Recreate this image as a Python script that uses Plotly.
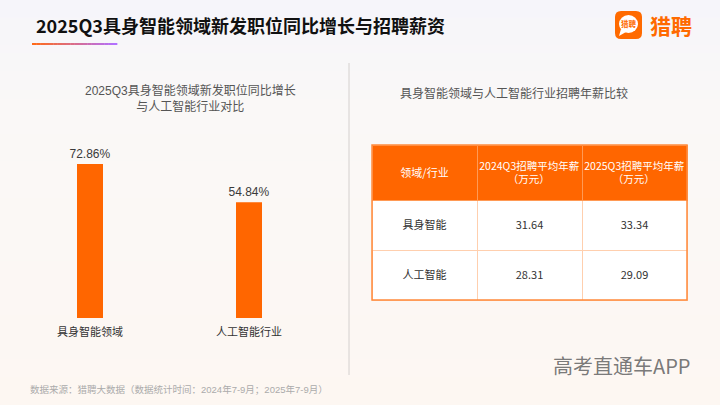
import plotly.graph_objects as go

# ---- data ----
title_text = "2025Q3具身智能领域新发职位同比增长与招聘薪资"
bar_categories = ["具身智能领域", "人工智能行业"]
bar_values = [72.86, 54.84]
left_subtitle = "2025Q3具身智能领域新发职位同比增长<br>与人工智能行业对比"
right_subtitle = "具身智能领域与人工智能行业招聘年薪比较"
table_header = ["领域/行业", "2024Q3招聘平均年薪", "2025Q3招聘平均年薪"]
header_unit = "（万元）"
table_fields = ["具身智能", "人工智能"]
salary_2024 = ["31.64", "28.31"]
salary_2025 = ["33.34", "29.09"]
source_text = "数据来源：猎聘大数据（数据统计时间：2024年7-9月；2025年7-9月）"
brand_text = "猎聘"
watermark_text = "高考直通车APP"

W, H = 720, 405
CJK = "Noto Sans CJK SC"
LAT = "Liberation Sans, Noto Sans CJK SC"
ORANGE = "#FF6600"


def px(x):
    return x / W


def py(y):
    return 1 - y / H


def spacer(size):
    # invisible first line used to nudge table text down (tables have no valign)
    return '<span style="font-size:%gpx">\u00a0</span><br>' % size


def pushdown(v):
    return [spacer(6) + s for s in v]


header_cells = [spacer(8.2) + table_header[0]] + [
    spacer(3) + h + "<br>\u3000\u3000\u2002\u2009" + header_unit for h in table_header[1:]
]

fig = go.Figure()

# bars
fig.add_trace(go.Bar(
    x=bar_categories, y=bar_values,
    marker=dict(color=ORANGE, line=dict(width=0)),
    width=0.1635,
    texttemplate="%{y:.2f}%", textposition="outside", constraintext="none",
    textfont=dict(family=LAT, size=12, color="#3a3a3a"),
    cliponaxis=False, hoverinfo="skip",
))

# table
fig.add_trace(go.Table(
    domain=dict(x=[px(372), px(687)], y=[0, py(145)]),
    columnwidth=[1, 1, 1],
    header=dict(
        values=header_cells,
        fill_color=ORANGE,
        line=dict(color="#FF9A55", width=1),
        align="center", height=55,
        font=dict(family=CJK, size=[11, 10.5, 10.5], color="white"),
    ),
    cells=dict(
        values=[pushdown(table_fields), pushdown(salary_2024), pushdown(salary_2025)],
        fill_color="white",
        line=dict(color="#FFCFAE", width=1),
        align="center", height=50,
        font=dict(family=CJK, size=11, color="#333333"),
    ),
))

shapes = []


def lerp(c1, c2, t):
    return tuple(round(a + (b - a) * t) for a, b in zip(c1, c2))


# background gradient bands
stops = [(0, (246, 245, 250)), (110, (250, 248, 247)), (405, (253, 247, 242))]
nb = 45
for i in range(nb):
    y0 = H * i / nb
    y1 = H * (i + 1) / nb
    ym = (y0 + y1) / 2
    for j in range(len(stops) - 1):
        if stops[j][0] <= ym <= stops[j + 1][0]:
            t = (ym - stops[j][0]) / (stops[j + 1][0] - stops[j][0])
            c = lerp(stops[j][1], stops[j + 1][1], t)
    shapes.append(dict(type="rect", xref="paper", yref="paper", x0=0, x1=1,
                       y0=py(y1), y1=py(y0) + 0.001, fillcolor="rgb(%d,%d,%d)" % c,
                       line=dict(width=0), layer="below"))

# title underline gradient
ng = 20
c_a, c_b = (255, 106, 26), (178, 112, 255)
for i in range(ng):
    c = lerp(c_a, c_b, i / (ng - 1))
    x0 = 32 + (117 - 32) * i / ng
    x1 = 32 + (117 - 32) * (i + 1) / ng
    shapes.append(dict(type="rect", xref="paper", yref="paper",
                       x0=px(x0), x1=px(x1) + 0.0005, y0=py(45), y1=py(43),
                       fillcolor="rgb(%d,%d,%d)" % c, line=dict(width=0)))

# divider line
shapes.append(dict(type="line", xref="paper", yref="paper", x0=px(349), x1=px(349),
                   y0=py(63), y1=py(375), line=dict(color="#D4D0CE", width=1)))

# table outer border
shapes.append(dict(type="rect", xref="paper", yref="paper", x0=px(372), x1=px(687),
                   y0=py(300), y1=py(145), line=dict(color="#FF8A3D", width=1.5),
                   fillcolor="rgba(0,0,0,0)", layer="above"))

# logo: rounded orange square
lx0, lx1, ly0, ly1, r = 615, 642, 11, 39, 6
path = (f"M {lx0 + r},{ly0} L {lx1 - r},{ly0} Q {lx1},{ly0} {lx1},{ly0 + r} "
        f"L {lx1},{ly1 - r} Q {lx1},{ly1} {lx1 - r},{ly1} L {lx0 + r},{ly1} "
        f"Q {lx0},{ly1} {lx0},{ly1 - r} L {lx0},{ly0 + r} Q {lx0},{ly0} {lx0 + r},{ly0} Z")
fig.add_trace(go.Scatter(x=[0], y=[0], xaxis="x2", yaxis="y2", mode="markers",
                         marker=dict(opacity=0), hoverinfo="skip", showlegend=False))
shapes.append(dict(type="path", xref="x2", yref="y2", path=path,
                   fillcolor="#FF6A00", line=dict(width=0)))
shapes.append(dict(type="circle", xref="x2", yref="y2", x0=619, x1=638, y0=15, y1=33,
                   fillcolor="white", line=dict(width=0)))
shapes.append(dict(type="path", xref="x2", yref="y2",
                   path="M 621,29 L 619,36 L 626,32 Z", fillcolor="white", line=dict(width=0)))

A = dict(xref="paper", yref="paper", showarrow=False)
annotations = [
    dict(text=title_text, x=px(34), y=py(25), xanchor="left", yanchor="middle",
         font=dict(family=CJK, size=18, color="#111111", weight="bold"), **A),
    dict(text=left_subtitle, x=px(190), y=py(98), xanchor="center", yanchor="middle",
         font=dict(family=LAT, size=12, color="#555555"), **A),
    dict(text=right_subtitle, x=px(514), y=py(92), xanchor="center", yanchor="middle",
         font=dict(family=CJK, size=12, color="#555555"), **A),
    dict(text=source_text, x=px(28), y=py(389), xanchor="left", yanchor="middle",
         font=dict(family=LAT, size=9.5, color="#ABABAB"), **A),
    dict(text=brand_text, x=px(648), y=py(25), xanchor="left", yanchor="middle",
         font=dict(family=CJK, size=21, color="#FF6A00", weight="bold"), **A),
    dict(text=brand_text, x=px(628.5), y=py(24), xanchor="center", yanchor="middle",
         font=dict(family=CJK, size=7.5, color="#FF6A00", weight="bold"), **A),
    dict(text=watermark_text, x=px(692), y=py(365), xanchor="right", yanchor="middle",
         font=dict(family=CJK, size=20, color="rgba(105,105,105,0.9)"), **A),
]

fig.update_layout(
    width=W, height=H,
    margin=dict(l=0, r=0, t=0, b=0),
    paper_bgcolor="#FAF7F5", plot_bgcolor="rgba(0,0,0,0)",
    showlegend=False,
    xaxis=dict(domain=[px(10.5), px(328.5)], range=[-0.5, 1.5], showgrid=False,
               showline=False, zeroline=False, ticks="", ticklabelstandoff=6,
               tickfont=dict(family=CJK, size=11, color="#333333"), fixedrange=True),
    yaxis=dict(domain=[py(318), py(149)], range=[0, 80], visible=False, fixedrange=True),
    xaxis2=dict(domain=[0, 1], range=[0, W], visible=False, anchor="y2", fixedrange=True),
    yaxis2=dict(domain=[0, 1], range=[H, 0], visible=False, anchor="x2", fixedrange=True),
    shapes=shapes,
    annotations=annotations,
)

fig.write_html("out.html", config={"displayModeBar": False},
               post_script="document.body.style.margin='0';")
